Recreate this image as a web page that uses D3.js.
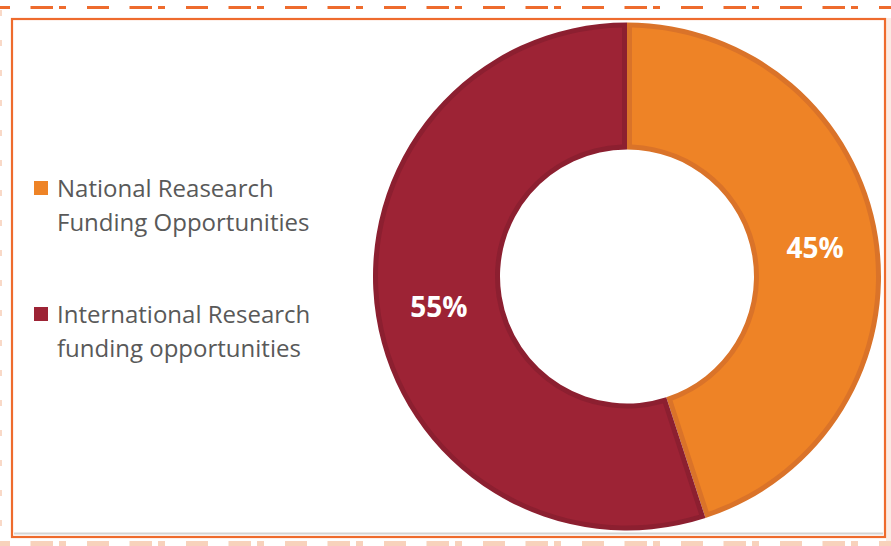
<!DOCTYPE html>
<html>
<head>
<meta charset="utf-8">
<script src="https://cdn.jsdelivr.net/npm/d3@7/dist/d3.min.js"></script>
<style>
  html, body { margin: 0; padding: 0; background: #ffffff; }
  svg { display: block; }
</style>
</head>
<body>
<script>
// ---- data ----
const categories = ["National Reasearch Funding Opportunities", "International Research funding opportunities"];
const legendLines = [["National Reasearch", "Funding Opportunities"], ["International Research", "funding opportunities"]];
const values = [45, 55];
const labels = ["45%", "55%"];

// ---- styles ----
const fills = ["#EE8326", "#9D2335"];
const borders = ["#DA7329", "#8C1F30"];
const frameColor = "#EE6B2D";

const W = 891, H = 546;
const svg = d3.select("body").append("svg").attr("width", W).attr("height", H);

// faint pink strip at the right edge
svg.append("rect").attr("x", 886).attr("y", 18).attr("width", 5).attr("height", 528).attr("fill", "#FBEBE4");

// top dashed decoration
svg.append("line").attr("x1", 0).attr("x2", W).attr("y1", 7.5).attr("y2", 7.5)
  .attr("stroke", frameColor).attr("stroke-width", 3)
  .attr("stroke-dasharray", "22 20.5 22.5 6 7 21").attr("stroke-dashoffset", 12);
// left faint dashes
svg.append("line").attr("x1", 1).attr("x2", 1).attr("y1", 0).attr("y2", H)
  .attr("stroke", "#F8CDB5").attr("stroke-width", 1.5).attr("stroke-dasharray", "6 24").attr("stroke-dashoffset", -10);
// bottom faded decoration
svg.append("line").attr("x1", 0).attr("x2", W).attr("y1", 543.5).attr("y2", 543.5)
  .attr("stroke", "#F8D2BC").attr("stroke-width", 5)
  .attr("stroke-dasharray", "22 20.5 22.5 6 7 21").attr("stroke-dashoffset", 12);

// frame
svg.append("line").attr("x1", 14).attr("x2", 883).attr("y1", 533.5).attr("y2", 533.5)
  .attr("stroke", "#D4D4D4").attr("stroke-width", 2);
svg.append("rect").attr("x", 12).attr("y", 19).attr("width", 873).attr("height", 518)
  .attr("fill", "none").attr("stroke", frameColor).attr("stroke-width", 2.2);

// donut
const cx = 627, cy = 276.5, R = 254, r = 127, bw = 5;
const pie = d3.pie().sort(null).value(d => d)(values);
const outerArc = d3.arc().innerRadius(r).outerRadius(R);
const innerArc = d3.arc().innerRadius(r + bw).outerRadius(R - bw).padAngle(2 * bw / R).padRadius(R);
const labelArc = d3.arc().innerRadius((R + r) / 2).outerRadius((R + r) / 2);

const g = svg.append("g").attr("transform", `translate(${cx},${cy})`);
g.selectAll("path.b").data(pie).enter().append("path").attr("class", "b")
  .attr("d", outerArc).attr("fill", (d, i) => borders[i]);
g.selectAll("path.f").data(pie).enter().append("path").attr("class", "f")
  .attr("d", innerArc).attr("fill", (d, i) => fills[i]);
g.selectAll("text").data(pie).enter().append("text")
  .attr("transform", d => `translate(${labelArc.centroid(d)})`)
  .attr("text-anchor", "middle").attr("dominant-baseline", "central")
  .attr("font-family", "'Open Sans', sans-serif").attr("font-weight", "bold")
  .attr("font-size", 28).attr("fill", "#ffffff")
  .text((d, i) => labels[i]);

// legend
const leg = svg.append("g");
const rows = [{ y: 181 }, { y: 307 }];
legendLines.forEach((lines, i) => {
  leg.append("rect").attr("x", 34).attr("y", rows[i].y).attr("width", 14).attr("height", 14)
    .attr("fill", fills[i]);
  lines.forEach((t, j) => {
    leg.append("text").attr("x", 57).attr("y", rows[i].y + 16 + j * 33.5)
      .attr("font-family", "'Open Sans', sans-serif").attr("font-size", 24)
      .attr("fill", "#595959").text(t);
  });
});
</script>
</body>
</html>
